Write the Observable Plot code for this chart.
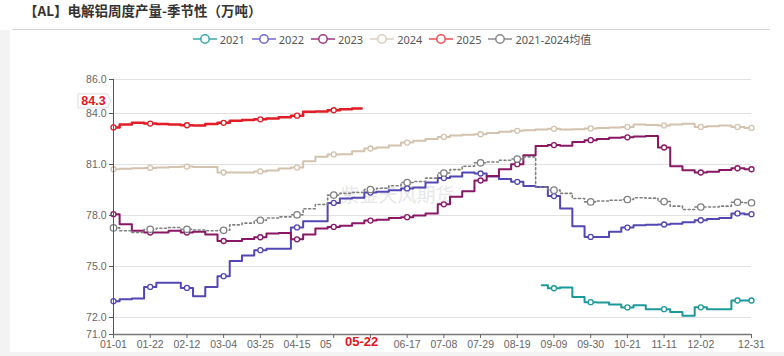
<!DOCTYPE html>
<html>
<head>
<meta charset="utf-8">
<script src="https://cdn.jsdelivr.net/npm/d3@7"></script>
<script src="https://cdn.jsdelivr.net/npm/@observablehq/plot@0.6"></script>
<style>
  html, body { margin: 0; padding: 0; background: #fff; }
  #wrap { position: relative; width: 784px; height: 356px; overflow: hidden; background: #fff; }
  #title { margin-left: 12px; width: 758px; padding-left: 12px; box-sizing: border-box; height: 30px; line-height: 29px;
           border-bottom: 1px solid #d6d6d6; font: bold 13.5px "Noto Sans CJK SC", sans-serif; color: #333; }
  #legend { height: 18px; display: flex; justify-content: center; align-items: center; gap: 7px;
            font: 11px "Noto Sans", "Noto Sans CJK SC", sans-serif; color: #555; }
  .item { display: flex; align-items: center; gap: 3px; }
  #chart svg { display: block; }
  .strip { position: absolute; background: #f3f3f3; }
</style>
</head>
<body>
<div id="wrap">
  <div class="strip" style="left:0;top:30px;width:10px;height:326px;"></div>
  <div class="strip" style="left:0;top:352px;width:784px;height:4px;"></div>
  <div id="title">【AL】电解铝周度产量-季节性（万吨）</div>
  <div id="legend"></div>
  <div id="chart"></div>
</div>
<script>
// ---- data ----
const weekDates = ["01-01","01-08","01-15","01-22","01-29","02-05","02-12","02-19","02-26","03-04",
  "03-11","03-18","03-25","04-01","04-08","04-15","04-22","04-29","05-06","05-13",
  "05-20","05-27","06-03","06-10","06-17","06-24","07-01","07-08","07-15","07-22",
  "07-29","08-05","08-12","08-19","08-26","09-02","09-09","09-16","09-23","09-30",
  "10-07","10-14","10-21","10-28","11-04","11-11","11-18","11-25","12-02","12-09",
  "12-16","12-23","12-31"];

const dates2025 = ["01-01","01-08","01-15","01-22","01-29","02-05","02-12","02-19","02-26","03-04",
  "03-11","03-18","03-25","04-01","04-08","04-15","04-22","04-29","05-06","05-13","05-20","05-22"];
const values2025 = [83.18,83.35,83.45,83.41,83.38,83.35,83.31,83.30,83.38,83.45,
  83.58,83.62,83.66,83.70,83.78,83.87,84.10,84.12,84.19,84.25,84.30,84.30];

const values2024 = [80.72,80.75,80.78,80.80,80.82,80.85,80.88,80.86,80.86,80.53,
  80.53,80.53,80.59,80.65,80.76,80.82,81.19,81.45,81.59,81.60,
  81.78,81.94,82.00,82.12,82.29,82.40,82.50,82.62,82.70,82.75,
  82.78,82.85,82.92,82.98,83.02,83.06,83.10,83.06,83.08,83.12,
  83.15,83.18,83.21,83.35,83.33,83.30,83.35,83.39,83.21,83.25,
  83.30,83.21,83.15];

const values2023 = [78.08,77.49,77.10,77.00,77.00,77.10,77.00,77.05,76.88,76.50,
  76.50,76.62,76.72,76.94,76.97,76.60,76.88,77.24,77.33,77.40,
  77.55,77.70,77.75,77.86,77.90,78.00,78.12,78.66,79.10,79.43,
  80.06,80.33,80.72,81.02,81.55,82.09,82.14,82.10,82.33,82.43,
  82.50,82.57,82.60,82.65,82.68,82.00,80.90,80.66,80.53,80.58,
  80.68,80.78,80.72];

const values2022 = [72.96,73.07,73.12,73.80,74.04,74.04,73.74,73.25,73.80,74.43,
  75.33,75.65,75.96,76.04,76.04,77.30,77.66,77.66,78.74,79.00,
  79.05,79.35,79.40,79.49,79.59,79.65,79.94,80.20,80.30,80.53,
  80.47,80.30,80.15,79.98,79.74,79.68,79.14,78.41,77.37,76.74,
  76.74,77.04,77.29,77.43,77.45,77.47,77.52,77.60,77.72,77.80,
  77.85,78.12,78.08];

const values2021 = [null,null,null,null,null,null,null,null,null,null,
  null,null,null,null,null,null,null,null,null,null,
  null,null,null,null,null,null,null,null,null,null,
  null,null,null,null,null,73.90,73.72,73.76,73.21,72.90,
  72.88,72.76,72.59,72.72,72.49,72.49,72.33,72.10,72.60,72.49,
  72.49,73.00,73.00];

const valuesAvg = [77.27,77.10,77.00,77.19,77.25,77.29,77.19,77.15,77.10,77.13,
  77.45,77.55,77.72,77.85,77.92,78.04,78.40,78.65,79.20,79.30,
  79.35,79.53,79.60,79.75,79.94,80.00,80.20,80.50,80.70,80.90,
  81.10,81.15,81.25,81.32,81.45,79.68,79.49,79.30,79.00,78.80,
  78.85,78.90,78.94,79.04,79.02,78.82,78.55,78.35,78.50,78.50,
  78.55,78.78,78.75];

const seriesNames = ["2021","2022","2023","2024","2025","2021-2024均值"];
const tickDates = ["01-01","01-22","02-12","03-04","03-25","04-15","05-06","05-27","06-17","07-08",
  "07-29","08-19","09-09","09-30","10-21","11-11","12-02","12-31"];
const hiddenTickLabels = ["05-06","05-27"];
const truncatedLabel = {date: "05-06", text: "05"};
const highlightDate = "05-22";
const yTicks = [71, 72, 75, 78, 81, 84, 86];
const gridValues = [72, 75, 78, 81, 84, 86];
const watermark = "紫金天风期货";
const titleText = "【AL】电解铝周度产量-季节性（万吨）";

// ---- styling ----
const lineColors = ["#1c9a9a", "#5247b3", "#8a1666", "#d3c2ae", "#e21d26", "#808080"];
const legendColors = ["#3aa8a8", "#7468cc", "#a3357f", "#dccfc1", "#ee4d4d", "#8a8a8a"];

const parseMD = md => new Date(`2024-${md}T00:00:00Z`);
const markerSet = new Set(weekDates.filter((d, i) => i % 3 === 0).concat(["12-31"]));

const seriesDefs = [
  {name: seriesNames[0], dates: weekDates, values: values2021, color: lineColors[0], width: 2},
  {name: seriesNames[1], dates: weekDates, values: values2022, color: lineColors[1], width: 2},
  {name: seriesNames[2], dates: weekDates, values: values2023, color: lineColors[2], width: 2},
  {name: seriesNames[3], dates: weekDates, values: values2024, color: lineColors[3], width: 2},
  {name: seriesNames[4], dates: dates2025, values: values2025, color: lineColors[4], width: 2.5},
  {name: seriesNames[5], dates: weekDates, values: valuesAvg, color: lineColors[5], width: 1.6, dash: "2,2.6", r: 3.2}
];

document.getElementById("title").textContent = titleText;

// legend
const legend = document.getElementById("legend");
seriesNames.forEach((n, i) => {
  const it = document.createElement("div");
  it.className = "item";
  it.innerHTML = `<svg width="24" height="12"><line x1="0" x2="24" y1="6" y2="6" stroke="${legendColors[i]}" stroke-width="1.5"/>` +
    `<circle cx="12" cy="6" r="4.2" fill="#fff" stroke="${legendColors[i]}" stroke-width="1.5"/></svg><span>${n}</span>`;
  legend.appendChild(it);
});

const marks = [
  Plot.ruleY(gridValues, {stroke: "#e1e1e1", strokeWidth: 1}),
  Plot.text([watermark], {frameAnchor: "top-left", dx: 284, dy: 109, fill: "#c8c8c8", fillOpacity: 0.45,
    fontSize: 19, fontFamily: "Noto Sans CJK SC", textAnchor: "middle"})
];

for (const s of seriesDefs) {
  const rows = [];
  s.dates.forEach((d, i) => {
    const v = s.values[i];
    if (v != null) rows.push({date: parseMD(d), md: d, value: v});
  });
  marks.push(Plot.line(rows, {x: "date", y: "value", curve: "step", stroke: s.color,
    strokeWidth: s.width, strokeDasharray: s.dash, strokeLinejoin: "round"}));
  marks.push(Plot.dot(rows.filter(r => markerSet.has(r.md)), {x: "date", y: "value", r: s.r || 2.5,
    fill: "#fff", stroke: s.color, strokeWidth: 1.3}));
}

const lastValue2025 = values2025[values2025.length - 1];

marks.push(
  Plot.ruleX([parseMD("01-01")], {stroke: "#555", strokeWidth: 1}),
  Plot.ruleY([71], {stroke: "#777", strokeWidth: 1.5}),
  Plot.axisY(yTicks, {tickFormat: d3.format(".1f"), tickSize: 4, tickPadding: 3, stroke: "#555",
    fill: "#666", fontSize: 10.5, fontFamily: "Liberation Sans, Noto Sans, sans-serif", label: null}),
  Plot.axisX(tickDates.map(parseMD), {tickSize: 4, tickPadding: 2, stroke: "#666", fill: "#666",
    fontSize: 10.5, fontFamily: "Liberation Sans Narrow, Liberation Sans, sans-serif", label: null,
    tickFormat: d => {
      const md = d3.utcFormat("%m-%d")(d);
      return hiddenTickLabels.includes(md) ? "" : md;
    }}),
  Plot.axisX([parseMD(truncatedLabel.date)], {tickSize: 0, tickPadding: 6, dx: -8, fill: "#666",
    fontSize: 10.5, fontFamily: "Liberation Sans Narrow, Liberation Sans, sans-serif", label: null,
    tickFormat: () => truncatedLabel.text}),
  Plot.text([highlightDate], {x: d => parseMD(d), text: d => d, frameAnchor: "bottom", dy: 11,
    fill: "#e0141e", fontWeight: "bold", fontSize: 13, fontFamily: "Liberation Sans, sans-serif"}),
  (index, scales, values, dims) => {
    const yy = scales.y(lastValue2025) - 7;
    const L = dims.marginLeft;
    const g = d3.create("svg:g");
    const x1 = L - 35, x2 = L - 6, tip = L - 2;
    g.append("path")
      .attr("d", `M${x1},${yy - 7}H${x2}L${tip},${yy}L${x2},${yy + 7}H${x1}Z`)
      .attr("fill", "#fff").attr("stroke", "#dcdcdc");
    g.append("text").attr("x", (x1 + x2) / 2 + 1).attr("y", yy).attr("dy", "0.35em")
      .attr("text-anchor", "middle").attr("fill", "#e0141e")
      .attr("font-family", "Liberation Sans, sans-serif").attr("font-weight", "bold").attr("font-size", 12.5)
      .text(d3.format(".1f")(lastValue2025));
    return g.node();
  }
);

const chart = Plot.plot({
  width: 784, height: 308,
  marginLeft: 113, marginRight: 33, marginTop: 31, marginBottom: 22,
  style: {background: "transparent", fontFamily: "Noto Sans, sans-serif", fontSize: "10.5px", color: "#666"},
  x: {type: "utc", domain: [parseMD("01-01"), parseMD("12-31")]},
  y: {domain: [71, 86]},
  marks
});
document.getElementById("chart").appendChild(chart);
</script>
</body>
</html>
